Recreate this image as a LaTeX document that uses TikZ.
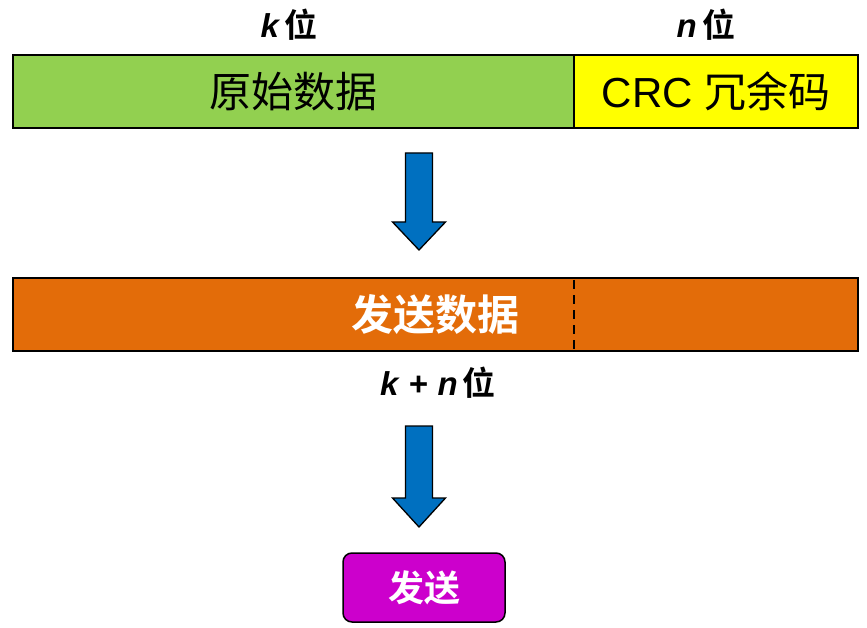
\documentclass[tikz,border=0pt]{standalone}
\usepackage{fontspec}
\newfontfamily\cjk{Noto Sans CJK SC}
\newfontfamily\cjkb{Noto Sans CJK SC Bold}
\newfontfamily\lat{Liberation Sans}
\definecolor{greenfill}{HTML}{92D050}
\definecolor{yellowfill}{HTML}{FFFF00}
\definecolor{orangefill}{HTML}{E36C09}
\definecolor{magentafill}{HTML}{CC00CC}
\definecolor{arrowblue}{HTML}{0070C0}
\begin{document}
\begin{tikzpicture}[x=1pt,y=-1pt,
  bar/.style={draw=black,line width=1.8pt,minimum height=73pt,inner sep=0pt,outer sep=0pt},
  bigtxt/.style={font=\cjk\fontsize{42}{44}\selectfont},
  lbl/.style={font=\fontsize{33}{36}\selectfont,inner sep=0pt},
  blockarrow/.style={fill=arrowblue,draw=black,line width=1.3pt,line join=miter}]
\useasboundingbox (0,0) rectangle (867,628);
% top bar
\node[bar,fill=greenfill,minimum width=561pt,bigtxt] (orig) at (293.5,91.5) {原始数据};
\node[bar,fill=yellowfill,minimum width=284pt,bigtxt] (crc) at (716,91.5) {\lat CRC \cjk 冗余码};
\node[lbl] (klbl) at (289,25) {{\lat\bfseries\itshape k}\,{\cjkb 位}};
\node[lbl] (nlbl) at (706,25) {{\lat\bfseries\itshape n}\,{\cjkb 位}};
% arrow 1
\draw[blockarrow] (405.5,153) -- (432.5,153) -- (432.5,222) -- (445.5,222) -- (419,250) -- (392.5,222) -- (405.5,222) -- cycle;
% send data bar
\node[bar,fill=orangefill,minimum width=845pt,font=\cjkb\fontsize{42}{44}\selectfont,text=white] (send) at (435.5,314.5) {发送数据};
\draw[line width=2pt,dash pattern=on 9pt off 6pt] (574,280) -- (574,350);
\node[lbl] (knlbl) at (438,383) {{\lat\bfseries\itshape k\hspace{10pt}+\hspace{10pt}n}\hspace{5pt}{\cjkb 位}};
% arrow 2
\draw[blockarrow] (405.5,426) -- (432.5,426) -- (432.5,498) -- (445.5,498) -- (419,527) -- (392.5,498) -- (405.5,498) -- cycle;
% send box
\node[draw=black,line width=1.5pt,fill=magentafill,rounded corners=9pt,minimum width=162pt,minimum height=69pt,inner sep=0pt,font=\cjkb\fontsize{36}{38}\selectfont,text=white] (tx) at (424,587.5) {发送};
\end{tikzpicture}
\end{document}
